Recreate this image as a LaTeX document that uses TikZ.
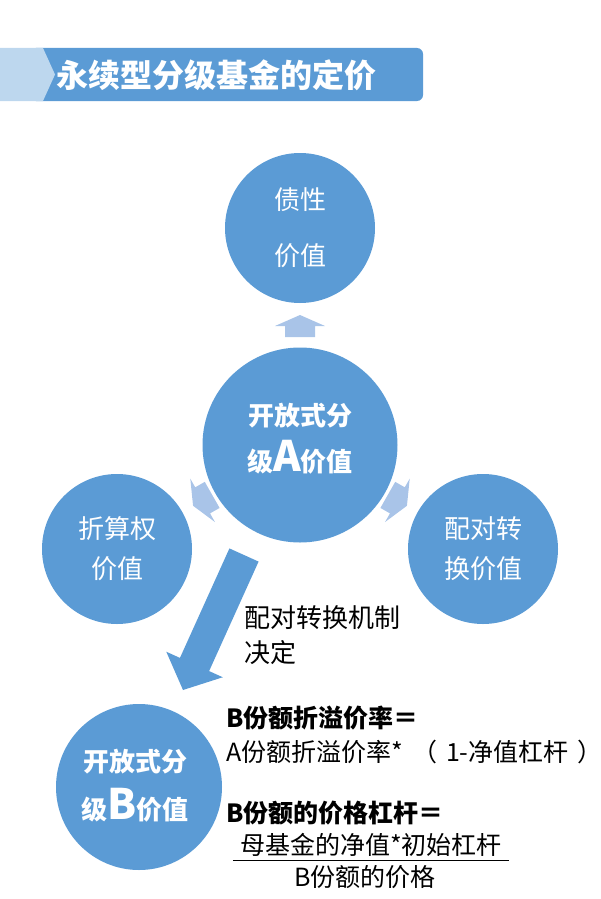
\documentclass[tikz,border=0pt]{standalone}
\usepackage{fontspec}
\setmainfont{Noto Sans CJK SC}
\usetikzlibrary{calc}
\definecolor{cblue}{HTML}{5B9BD5}
\definecolor{clight}{HTML}{BDD7EE}
\definecolor{carrow}{HTML}{A9C4E8}
\tikzset{
  circ/.style={circle, fill=cblue, text=white, inner sep=0pt, align=center},
  smallcirc/.style={circ, minimum size=150pt, font=\fontsize{26}{40}\selectfont},
  blockarr/.pic={\fill[carrow] (-11,-15)--(0,-15)--(0,-25)--(11,0)--(0,25)--(0,15)--(-11,15)--cycle;},
  bodytxt/.style={inner sep=0pt, text=black, font=\fontsize{25}{32}\selectfont},
  circtxt/.style={inner sep=0pt, text=white, align=center},
}
\begin{document}
\begin{tikzpicture}[x=1pt,y=-1pt]
\useasboundingbox (0,0) rectangle (600,899);
% header banner
\fill[cblue, rounded corners=6pt] (30,48) rectangle (423,101);
\fill[clight] (0,48) -- (43,48) -- (55,74.5) -- (43,101) -- (0,101) -- cycle;
\node[anchor=west, inner sep=0pt, text=white, font=\fontsize{32}{32}\selectfont\bfseries] (title) at (56,75) {永续型分级基金的定价};
% circles
\node[smallcirc, font=\fontsize{26}{56}\selectfont] (debt) at (300,228) {债性\\价值};
\node[circ, minimum size=195pt] (A) at (300,445) {};
\node[circtxt, font=\fontsize{26}{46}\selectfont\bfseries] (Atxt) at (300,439) {开放式分\\级{\fontsize{42}{42}\selectfont A}价值};
\node[smallcirc] (left) at (117,549) {折算权\\价值};
\node[smallcirc] (right) at (483,549) {配对转\\换价值};
\node[circ, minimum size=166pt] (B) at (139,787) {};
\node[circtxt, font=\fontsize{26}{48}\selectfont\bfseries] (Btxt) at (135,786) {开放式分\\级{\fontsize{42}{42}\selectfont B}价值};
% small block arrows
\pic[rotate=90] at ($(A.center)!119pt!(debt.center)$) {blockarr};
\pic[rotate=209.6] at ($(A.center)!112pt!(left.center)$) {blockarr};
\pic[rotate=330.4] at ($(A.center)!112pt!(right.center)$) {blockarr};
% big arrow
\coordinate (bs) at (244,555);
\coordinate (bt) at (183,690);
\coordinate (bh) at ($(bt)!28pt!(bs)$);
\fill[cblue] ($(bs)!16pt!90:(bt)$) -- ($(bh)!16pt!90:(bt)$) -- ($(bh)!31pt!90:(bt)$) -- (bt)
  -- ($(bh)!31pt!-90:(bt)$) -- ($(bh)!16pt!-90:(bt)$) -- ($(bs)!16pt!-90:(bt)$) -- cycle;
\node[bodytxt, anchor=west, align=left, font=\fontsize{26}{35}\selectfont] (mech) at (244,635.5) {配对转换机制\\决定};
% formulas
\node[bodytxt, anchor=west, font=\fontsize{25}{32}\selectfont\bfseries] (f1) at (226,718) {B份额折溢价率＝};
\node[bodytxt, anchor=west] (f2) at (226,752) {A份额折溢价率*\hspace{9pt}（\hspace{9pt}1-净值杠杆\hspace{9pt}\makebox[3pt][l]{）}};
\node[bodytxt, anchor=west, font=\fontsize{25}{32}\selectfont\bfseries] (f3) at (226,813) {B份额的价格杠杆＝};
\node[bodytxt, inner xsep=7pt, inner ysep=4pt] (num) at (371,845) {母基金的净值*初始杠杆};
\draw[line width=1.2pt] (num.south west) -- (num.south east);
\node[bodytxt] (den) at (365,877) {B份额的价格};
\end{tikzpicture}
\end{document}
